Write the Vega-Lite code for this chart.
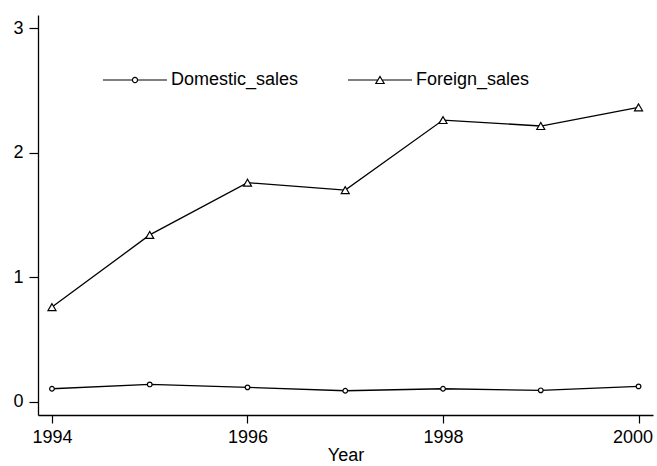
{
  "$schema": "https://vega.github.io/schema/vega-lite/v6.json",
  "width": 615,
  "height": 400,
  "autosize": {"type": "none"},
  "padding": {"left": 38, "top": 15, "right": 4, "bottom": 51},
  "background": "white",
  "config": {
    "view": {"stroke": null},
    "font": "Liberation Sans",
    "axis": {
      "grid": false,
      "domainColor": "black",
      "domainWidth": 1.3,
      "tickColor": "black",
      "tickWidth": 1.2,
      "labelColor": "black",
      "titleColor": "black",
      "labelFontSize": 18,
      "titleFontSize": 18,
      "titleFontWeight": "normal",
      "labelFont": "Liberation Sans",
      "titleFont": "Liberation Sans"
    }
  },
  "data": {
    "values": [
      {"year": 1994, "series": "Domestic_sales", "value": 0.104},
      {"year": 1995, "series": "Domestic_sales", "value": 0.139},
      {"year": 1996, "series": "Domestic_sales", "value": 0.115},
      {"year": 1997, "series": "Domestic_sales", "value": 0.088},
      {"year": 1998, "series": "Domestic_sales", "value": 0.104},
      {"year": 1999, "series": "Domestic_sales", "value": 0.091},
      {"year": 2000, "series": "Domestic_sales", "value": 0.123},
      {"year": 1994, "series": "Foreign_sales", "value": 0.76},
      {"year": 1995, "series": "Foreign_sales", "value": 1.34},
      {"year": 1996, "series": "Foreign_sales", "value": 1.76},
      {"year": 1997, "series": "Foreign_sales", "value": 1.70},
      {"year": 1998, "series": "Foreign_sales", "value": 2.263},
      {"year": 1999, "series": "Foreign_sales", "value": 2.215},
      {"year": 2000, "series": "Foreign_sales", "value": 2.365}
    ]
  },
  "encoding": {
    "x": {
      "field": "year",
      "type": "quantitative",
      "scale": {"domain": [1993.857, 2000.148], "nice": false, "zero": false},
      "axis": {
        "values": [1994, 1996, 1998, 2000],
        "format": "d",
        "title": "Year",
        "tickSize": 8,
        "labelPadding": 5,
        "titlePadding": 0,
        "labelOffset": {"condition": {"test": "datum.value == 2000", "value": -6}, "value": 0}
      }
    },
    "y": {
      "field": "value",
      "type": "quantitative",
      "scale": {"domain": [-0.107, 3.107], "nice": false, "zero": false},
      "axis": {"values": [0, 1, 2, 3], "title": null, "tickSize": 9, "labelPadding": 6}
    }
  },
  "layer": [
    {
      "mark": {"type": "line", "strokeWidth": 1.3},
      "encoding": {
        "color": {
          "field": "series",
          "type": "nominal",
          "scale": {"range": ["black", "black"]},
          "legend": {
            "title": null,
            "orient": "none",
            "direction": "horizontal",
            "legendX": 64,
            "legendY": 32,
            "padding": 0,
            "symbolSize": 4096,
            "symbolStrokeWidth": 1.2,
            "labelFontSize": 18,
            "labelFont": "Liberation Sans",
            "labelColor": "black",
            "labelOffset": 3,
            "columnPadding": 46,
            "encode": {
              "symbols": {
                "update": {
                  "shape": {"signal": "datum.label === 'Domestic_sales' ? 'M-1,0H-0.08M0.08,0H1M0.08,0A0.08,0.08,0,1,1,-0.08,0A0.08,0.08,0,1,1,0.08,0Z' : 'M-1,0H-0.065M0.065,0H1M0,-0.11L0.13,0.11L-0.13,0.11Z'"},
                  "fill": {"value": "white"},
                  "stroke": {"value": "black"},
                  "strokeWidth": {"value": 1.2}
                }
              }
            }
          }
        }
      }
    },
    {
      "mark": {"type": "point", "filled": false, "fill": "white", "stroke": "black", "strokeWidth": 1.2, "opacity": 1},
      "encoding": {
        "shape": {"field": "series", "type": "nominal", "scale": {"range": ["circle", "triangle-up"]}, "legend": null},
        "size": {"field": "series", "type": "nominal", "scale": {"range": [22, 64]}, "legend": null}
      }
    }
  ]
}
